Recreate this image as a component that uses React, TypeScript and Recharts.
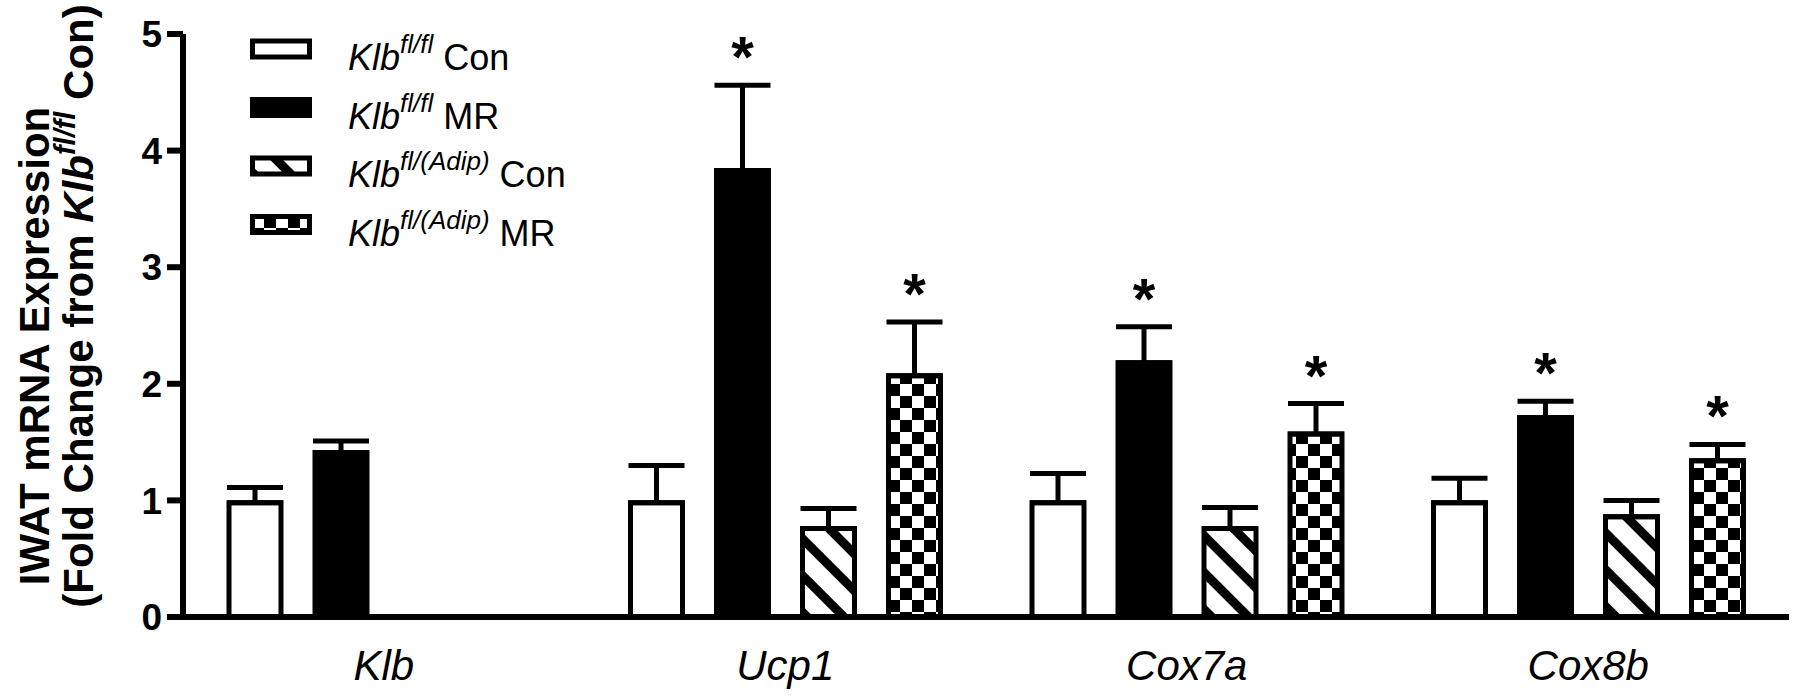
import { BarChart, Bar, XAxis, YAxis, ErrorBar, LabelList } from 'recharts';

const FONT = '"Liberation Sans", Arial, Helvetica, sans-serif';

// genes on the x axis
const genes = ['Klb', 'Ucp1', 'Cox7a', 'Cox8b'];

// means and SEM (upward only)
const conFl = [0.98, 0.98, 0.98, 0.98];
const conFlSem = [0.13, 0.32, 0.25, 0.21];
const mrFl = [1.41, 3.83, 2.18, 1.71];
const mrFlSem = [0.1, 0.73, 0.31, 0.14];
const conAd = [null, 0.76, 0.76, 0.86];
const conAdSem = [null, 0.17, 0.18, 0.14];
const mrAd = [null, 2.07, 1.57, 1.34];
const mrAdSem = [null, 0.46, 0.26, 0.14];

// significance markers
const mrFlStar = [false, true, true, true];
const mrAdStar = [false, true, true, true];

const yTicks = [0, 1, 2, 3, 4, 5];

const series = [
  { key: 'conFl', fill: '#fff', sup: 'fl/fl', tail: 'Con' },
  { key: 'mrFl', fill: '#000', sup: 'fl/fl', tail: 'MR' },
  { key: 'conAd', fill: 'url(#hatch)', sup: 'fl/(Adip)', tail: 'Con' },
  { key: 'mrAd', fill: 'url(#checker)', sup: 'fl/(Adip)', tail: 'MR' },
];

const err = (s: number | null) => (s == null ? undefined : [0, s]);

const data = genes.map((g, i) => ({
  gene: g,
  conFl: conFl[i],
  conFlErr: err(conFlSem[i]),
  mrFl: mrFl[i],
  mrFlErr: err(mrFlSem[i]),
  conAd: conAd[i],
  conAdErr: err(conAdSem[i]),
  mrAd: mrAd[i],
  mrAdErr: err(mrAdSem[i]),
}));

// asterisk above the error bar; index looked up by value (LabelList skips nulls)
function starLabel(stars: boolean[], means: (number | null)[], sems: (number | null)[]) {
  return (props: any) => {
    const { x, y, width, height, value } = props;
    const index = means.findIndex((m) => m === value);
    if (index < 0 || !stars[index] || !value) return null;
    const errPx = ((sems[index] ?? 0) * height) / value;
    return (
      <text
        x={x + width / 2}
        y={y - errPx - 8}
        textAnchor="middle"
        fontSize={58}
        fontWeight="bold"
        fontFamily={FONT}
        fill="#000"
      >
        *
      </text>
    );
  };
}

function GeneTick(props: any) {
  const { x, y, payload } = props;
  return (
    <text x={x} y={y + 61} textAnchor="middle" fontSize={42} fontStyle="italic" fontFamily={FONT} fill="#000">
      {payload.value}
    </text>
  );
}

function LegendBlock() {
  return (
    <g>
      {series.map((s, i) => {
        const cy = 49 + i * 58.5;
        return (
          <g key={s.key}>
            <rect x={252.5} y={cy - 8} width={57} height={16} fill={s.fill} stroke="#000" strokeWidth={5} />
            <text x={348} y={cy + 21} fontSize={36} fontFamily={FONT} fill="#000">
              <tspan fontStyle="italic">Klb</tspan>
              <tspan fontStyle="italic" fontSize={26} dy={-17}>
                {s.sup}
              </tspan>
              <tspan dy={17}>{' ' + s.tail}</tspan>
            </text>
          </g>
        );
      })}
    </g>
  );
}

function YTitle() {
  return (
    <g fontFamily={FONT} fontWeight="bold" fill="#000" fontSize={42}>
      <text x={49} y={346} transform="rotate(-90 49 346)" textAnchor="middle">
        IWAT mRNA Expression
      </text>
      <text x={93} y={306} transform="rotate(-90 93 306)" textAnchor="middle">
        <tspan>(Fold Change from </tspan>
        <tspan fontStyle="italic">Klb</tspan>
        <tspan fontStyle="italic" fontSize={29} dy={-18}>
          fl/fl
        </tspan>
        <tspan dy={18}> Con)</tspan>
      </text>
    </g>
  );
}

export default function App() {
  return (
    <div style={{ position: 'absolute', left: 0, top: 0, background: '#fff' }}>
      <BarChart
        width={1800}
        height={699}
        data={data}
        margin={{ top: 34, right: 11, bottom: 52, left: 123 }}
        barSize={52}
        barGap={34}
      >
        <defs>
          <pattern id="hatch" patternUnits="userSpaceOnUse" width={26} height={26} patternTransform="rotate(-45)">
            <rect x={0} y={0} width={26} height={26} fill="#fff" />
            <rect x={0} y={0} width={9} height={26} fill="#000" />
          </pattern>
          <pattern id="checker" patternUnits="userSpaceOnUse" width={24} height={24}>
            <rect x={0} y={0} width={24} height={24} fill="#fff" />
            <rect x={0} y={0} width={12} height={12} fill="#000" />
            <rect x={12} y={12} width={12} height={12} fill="#000" />
          </pattern>
        </defs>
        <XAxis
          dataKey="gene"
          height={30}
          axisLine={{ stroke: '#000', strokeWidth: 6 }}
          tickLine={false}
          tickSize={0}
          tick={<GeneTick />}
        />
        <YAxis
          domain={[0, 5]}
          ticks={yTicks}
          width={60}
          tickSize={16}
          tickMargin={5}
          axisLine={{ stroke: '#000', strokeWidth: 6 }}
          tickLine={{ stroke: '#000', strokeWidth: 6 }}
          tick={{ fill: '#000', fontSize: 37, fontWeight: 'bold', fontFamily: FONT }}
        />
        <Bar dataKey="conFl" fill="#fff" stroke="#000" strokeWidth={5} isAnimationActive={false}>
          <ErrorBar dataKey="conFlErr" direction="y" width={28} strokeWidth={5} stroke="#000" />
        </Bar>
        <Bar dataKey="mrFl" fill="#000" stroke="#000" strokeWidth={5} isAnimationActive={false}>
          <ErrorBar dataKey="mrFlErr" direction="y" width={28} strokeWidth={5} stroke="#000" />
          <LabelList dataKey="mrFl" content={starLabel(mrFlStar, mrFl, mrFlSem)} />
        </Bar>
        <Bar dataKey="conAd" fill="url(#hatch)" stroke="#000" strokeWidth={5} isAnimationActive={false}>
          <ErrorBar dataKey="conAdErr" direction="y" width={28} strokeWidth={5} stroke="#000" />
        </Bar>
        <Bar dataKey="mrAd" fill="url(#checker)" stroke="#000" strokeWidth={5} isAnimationActive={false}>
          <ErrorBar dataKey="mrAdErr" direction="y" width={28} strokeWidth={5} stroke="#000" />
          <LabelList dataKey="mrAd" content={starLabel(mrAdStar, mrAd, mrAdSem)} />
        </Bar>
        <LegendBlock />
        <YTitle />
      </BarChart>
    </div>
  );
}
